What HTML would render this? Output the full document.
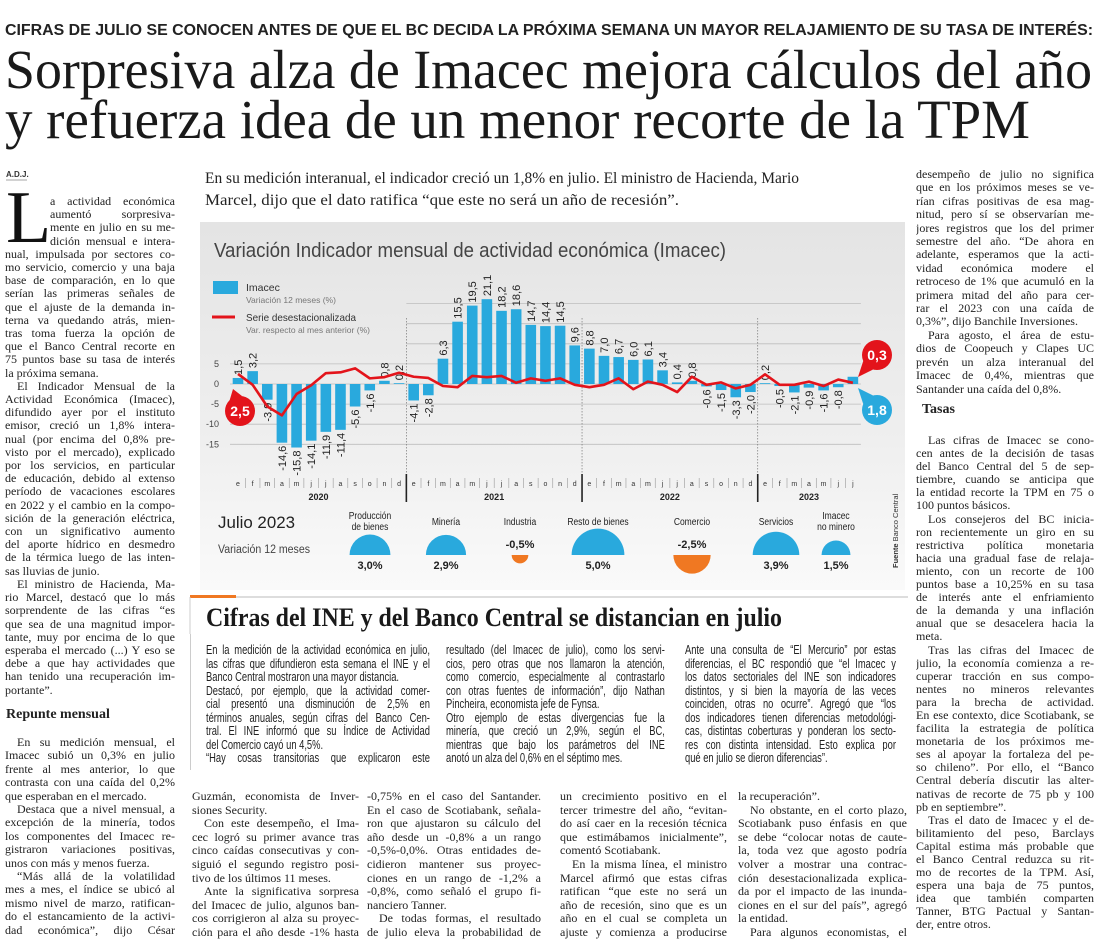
<!DOCTYPE html>
<html><head><meta charset="utf-8">
<style>
html,body{margin:0;padding:0;background:#fff;}
body{width:1100px;height:947px;position:relative;overflow:hidden;color:#1e1e1e;}
.abs{position:absolute;}
.col{position:absolute;font-family:"Liberation Serif",serif;font-size:12px;line-height:13.4px;color:#222;}
.col div{white-space:nowrap;text-align:justify;text-align-last:justify;overflow:hidden;}
.col div.e{text-align-last:left;}
.col div.i{text-indent:12px;}
.col div.d{padding-left:45px;}
.sc{position:absolute;font-family:"Liberation Sans",sans-serif;font-size:13px;line-height:13.5px;color:#222;transform:scaleX(0.72);transform-origin:0 0;}
.sc div{white-space:nowrap;text-align:justify;text-align-last:justify;overflow:hidden;}
.sc div.e{text-align-last:left;}
.hd{position:absolute;font-family:"Liberation Serif",serif;font-weight:bold;font-size:14px;color:#222;}
</style></head>
<body>
<svg class="abs" style="left:0;top:0" width="1100" height="222">
<text x="5" y="35" textLength="1088" lengthAdjust="spacingAndGlyphs" font-family="Liberation Sans, sans-serif" font-weight="bold" font-size="16" fill="#222">CIFRAS DE JULIO SE CONOCEN ANTES DE QUE EL BC DECIDA LA PRÓXIMA SEMANA UN MAYOR RELAJAMIENTO DE SU TASA DE INTERÉS:</text>
<text x="5" y="88" textLength="1087" lengthAdjust="spacingAndGlyphs" font-family="Liberation Serif, serif" font-size="55" fill="#1a1a1a">Sorpresiva alza de Imacec mejora cálculos del año</text>
<text x="5" y="138" textLength="1025" lengthAdjust="spacingAndGlyphs" font-family="Liberation Serif, serif" font-size="55" fill="#1a1a1a">y refuerza idea de un menor recorte de la TPM</text>
<text x="6" y="177" font-family="Liberation Sans, sans-serif" font-size="8" font-weight="bold" fill="#333">A.D.J.</text>
<line x1="6" y1="180" x2="27" y2="180" stroke="#888" stroke-width="0.8"/>
<text x="205" y="183" textLength="594" lengthAdjust="spacingAndGlyphs" font-family="Liberation Serif, serif" font-size="15.5" fill="#222">En su medición interanual, el indicador creció un 1,8% en julio. El ministro de Hacienda, Mario</text>
<text x="205" y="205" textLength="474" lengthAdjust="spacingAndGlyphs" font-family="Liberation Serif, serif" font-size="15.5" fill="#222">Marcel, dijo que el dato ratifica “que este no será un año de recesión”.</text>
</svg>

<div class="abs" style="left:6px;top:181px;font-family:'Liberation Serif',serif;font-size:74px;line-height:1;color:#111;">L</div>

<div class="col" style="left:5px;top:195px;width:170px;line-height:13.2px;">
<div class="d">a actividad económica</div>
<div class="d">aumentó sorpresiva-</div>
<div class="d">mente en julio en su me-</div>
<div class="d">dición mensual e intera-</div>
<div>nual, impulsada por sectores co-</div>
<div>mo servicio, comercio y una baja</div>
<div>base de comparación, en lo que</div>
<div>serían las primeras señales de</div>
<div>que el ajuste de la demanda in-</div>
<div>terna va quedando atrás, mien-</div>
<div>tras toma fuerza la opción de</div>
<div>que el Banco Central recorte en</div>
<div>75 puntos base su tasa de interés</div>
<div class="e">la próxima semana.</div>
<div class="i">El Indicador Mensual de la</div>
<div>Actividad Económica (Imacec),</div>
<div>difundido ayer por el instituto</div>
<div>emisor, creció un 1,8% intera-</div>
<div>nual (por encima del 0,8% pre-</div>
<div>visto por el mercado), explicado</div>
<div>por los servicios, en particular</div>
<div>de educación, debido al extenso</div>
<div>período de vacaciones escolares</div>
<div>en 2022 y el cambio en la compo-</div>
<div>sición de la generación eléctrica,</div>
<div>con un significativo aumento</div>
<div>del aporte hídrico en desmedro</div>
<div>de la térmica luego de las inten-</div>
<div class="e">sas lluvias de junio.</div>
<div class="i">El ministro de Hacienda, Ma-</div>
<div>rio Marcel, destacó que lo más</div>
<div>sorprendente de las cifras “es</div>
<div>que sea de una magnitud impor-</div>
<div>tante, muy por encima de lo que</div>
<div>esperaba el mercado (...) Y eso se</div>
<div>debe a que hay actividades que</div>
<div>han tenido una recuperación im-</div>
<div class="e">portante”.</div>
</div>
<div class="hd" style="left:6px;top:707px;">Repunte mensual</div>
<div class="col" style="left:5px;top:736px;width:170px;">
<div class="i">En su medición mensual, el</div>
<div>Imacec subió un 0,3% en julio</div>
<div>frente al mes anterior, lo que</div>
<div>contrasta con una caída del 0,2%</div>
<div class="e">que esperaban en el mercado.</div>
<div class="i">Destaca que a nivel mensual, a</div>
<div>excepción de la minería, todos</div>
<div>los componentes del Imacec re-</div>
<div>gistraron variaciones positivas,</div>
<div class="e">unos con más y menos fuerza.</div>
<div class="i">“Más allá de la volatilidad</div>
<div>mes a mes, el índice se ubicó al</div>
<div>mismo nivel de marzo, ratifican-</div>
<div>do el estancamiento de la activi-</div>
<div>dad económica”, dijo César</div>
</div>

<div class="col" style="left:916px;top:168px;width:178px;">
<div>desempeño de julio no significa</div>
<div>que en los próximos meses se ve-</div>
<div>rían cifras positivas de esa mag-</div>
<div>nitud, pero sí se observarían me-</div>
<div>jores registros que los del primer</div>
<div>semestre del año. “De ahora en</div>
<div>adelante, esperamos que la acti-</div>
<div>vidad económica modere el</div>
<div>retroceso de 1% que acumuló en la</div>
<div>primera mitad del año para cer-</div>
<div>rar el 2023 con una caída de</div>
<div class="e">0,3%”, dijo Banchile Inversiones.</div>
<div class="i">Para agosto, el área de estu-</div>
<div>dios de Coopeuch y Clapes UC</div>
<div>prevén un alza interanual del</div>
<div>Imacec de 0,4%, mientras que</div>
<div class="e">Santander una caída del 0,8%.</div>
</div>
<div class="hd" style="left:922px;top:402px;">Tasas</div>
<div class="col" style="left:916px;top:434px;width:178px;line-height:13.1px;">
<div class="i">Las cifras de Imacec se cono-</div>
<div>cen antes de la decisión de tasas</div>
<div>del Banco Central del 5 de sep-</div>
<div>tiembre, cuando se anticipa que</div>
<div>la entidad recorte la TPM en 75 o</div>
<div class="e">100 puntos básicos.</div>
<div class="i">Los consejeros del BC inicia-</div>
<div>ron recientemente un giro en su</div>
<div>restrictiva política monetaria</div>
<div>hacia una gradual fase de relaja-</div>
<div>miento, con un recorte de 100</div>
<div>puntos base a 10,25% en su tasa</div>
<div>de interés ante el enfriamiento</div>
<div>de la demanda y una inflación</div>
<div>anual que se desacelera hacia la</div>
<div class="e">meta.</div>
<div class="i">Tras las cifras del Imacec de</div>
<div>julio, la economía comienza a re-</div>
<div>cuperar tracción en sus compo-</div>
<div>nentes no mineros relevantes</div>
<div>para la brecha de actividad.</div>
<div>En ese contexto, dice Scotiabank, se</div>
<div>facilita la estrategia de política</div>
<div>monetaria de los próximos me-</div>
<div>ses al apoyar la fortaleza del pe-</div>
<div>so chileno”. Por ello, el “Banco</div>
<div>Central debería discutir las alter-</div>
<div>nativas de recorte de 75 pb y 100</div>
<div class="e">pb en septiembre”.</div>
<div class="i">Tras el dato de Imacec y el de-</div>
<div>bilitamiento del peso, Barclays</div>
<div>Capital estima más probable que</div>
<div>el Banco Central reduzca su rit-</div>
<div>mo de recortes de la TPM. Así,</div>
<div>espera una baja de 75 puntos,</div>
<div>idea que también comparten</div>
<div>Tanner, BTG Pactual y Santan-</div>
<div class="e">der, entre otros.</div>
</div>

<!-- sub story -->
<svg class="abs" style="left:185px;top:594px" width="725" height="40">
<line x1="5" y1="3" x2="723" y2="3" stroke="#bbb" stroke-width="1"/>
<rect x="5" y="1" width="46" height="3" fill="#f07822"/>
<line x1="5" y1="3" x2="5" y2="40" stroke="#ccc" stroke-width="1"/>
<text x="21" y="32" textLength="576" lengthAdjust="spacingAndGlyphs" font-family="Liberation Serif, serif" font-weight="bold" font-size="26" fill="#1a1a1a">Cifras del INE y del Banco Central se distancian en julio</text>
</svg>
<div class="abs" style="left:190px;top:634px;width:1px;height:136px;background:#ccc"></div>

<div class="sc" style="left:206px;top:643px;width:311px;">
<div>En la medición de la actividad económica en julio,</div>
<div>las cifras que difundieron esta semana el INE y el</div>
<div class="e">Banco Central mostraron una mayor distancia.</div>
<div>Destacó, por ejemplo, que la actividad comer-</div>
<div>cial presentó una disminución de 2,5% en</div>
<div>términos anuales, según cifras del Banco Cen-</div>
<div>tral. El INE informó que su Índice de Actividad</div>
<div class="e">del Comercio cayó un 4,5%.</div>
<div>“Hay cosas transitorias que explicaron este</div>
</div>
<div class="sc" style="left:446px;top:643px;width:304px;">
<div>resultado (del Imacec de julio), como los servi-</div>
<div>cios, pero otras que nos llamaron la atención,</div>
<div>como comercio, especialmente al contrastarlo</div>
<div>con otras fuentes de información”, dijo Nathan</div>
<div class="e">Pincheira, economista jefe de Fynsa.</div>
<div>Otro ejemplo de estas divergencias fue la</div>
<div>minería, que creció un 2,9%, según el BC,</div>
<div>mientras que bajo los parámetros del INE</div>
<div class="e">anotó un alza del 0,6% en el séptimo mes.</div>
</div>
<div class="sc" style="left:685px;top:643px;width:293px;">
<div>Ante una consulta de “El Mercurio” por estas</div>
<div>diferencias, el BC respondió que “el Imacec y</div>
<div>los datos sectoriales del INE son indicadores</div>
<div>distintos, y si bien la mayoría de las veces</div>
<div>coinciden, otras no ocurre”. Agregó que “los</div>
<div>dos indicadores tienen diferencias metodológi-</div>
<div>cas, distintas coberturas y ponderan los secto-</div>
<div>res con distinta intensidad. Esto explica por</div>
<div class="e">qué en julio se dieron diferencias”.</div>
</div>

<div class="col" style="left:192px;top:790px;width:167px;line-height:13.6px;">
<div>Guzmán, economista de Inver-</div>
<div class="e">siones Security.</div>
<div class="i">Con este desempeño, el Ima-</div>
<div>cec logró su primer avance tras</div>
<div>cinco caídas consecutivas y con-</div>
<div>siguió el segundo registro posi-</div>
<div class="e">tivo de los últimos 11 meses.</div>
<div class="i">Ante la significativa sorpresa</div>
<div>del Imacec de julio, algunos ban-</div>
<div>cos corrigieron al alza su proyec-</div>
<div>ción para el año desde -1% hasta</div>
</div>
<div class="col" style="left:367px;top:790px;width:174px;line-height:13.6px;">
<div>-0,75% en el caso del Santander.</div>
<div>En el caso de Scotiabank, señala-</div>
<div>ron que ajustaron su cálculo del</div>
<div>año desde un -0,8% a un rango</div>
<div>-0,5%-0,0%. Otras entidades de-</div>
<div>cidieron mantener sus proyec-</div>
<div>ciones en un rango de -1,2% a</div>
<div>-0,8%, como señaló el grupo fi-</div>
<div class="e">nanciero Tanner.</div>
<div class="i">De todas formas, el resultado</div>
<div>de julio eleva la probabilidad de</div>
</div>
<div class="col" style="left:560px;top:790px;width:167px;line-height:13.6px;">
<div>un crecimiento positivo en el</div>
<div>tercer trimestre del año, “evitan-</div>
<div>do así caer en la recesión técnica</div>
<div>que estimábamos inicialmente”,</div>
<div class="e">comentó Scotiabank.</div>
<div class="i">En la misma línea, el ministro</div>
<div>Marcel afirmó que estas cifras</div>
<div>ratifican “que este no será un</div>
<div>año de recesión, sino que es un</div>
<div>año en el cual se completa un</div>
<div>ajuste y comienza a producirse</div>
</div>
<div class="col" style="left:738px;top:790px;width:169px;line-height:13.6px;">
<div class="e">la recuperación”.</div>
<div class="i">No obstante, en el corto plazo,</div>
<div>Scotiabank puso énfasis en que</div>
<div>se debe “colocar notas de caute-</div>
<div>la, toda vez que agosto podría</div>
<div>volver a mostrar una contrac-</div>
<div>ción desestacionalizada explica-</div>
<div>da por el impacto de las inunda-</div>
<div>ciones en el sur del país”, agregó</div>
<div class="e">la entidad.</div>
<div class="i">Para algunos economistas, el</div>
</div>

<svg id="chart" class="abs" style="left:200px;top:222px" width="705" height="368" viewBox="200 222 705 368">
<defs><linearGradient id="bg" x1="0" y1="0" x2="0" y2="1"><stop offset="0" stop-color="#e4e4e4"/><stop offset="0.6" stop-color="#efefef"/><stop offset="1" stop-color="#fafafa"/></linearGradient></defs>
<rect x="200" y="222" width="705" height="368" fill="url(#bg)"/>
<text x="214" y="257" textLength="512" lengthAdjust="spacingAndGlyphs" font-family="Liberation Sans, sans-serif" font-size="20" fill="#444">Variación Indicador mensual de actividad económica (Imacec)</text>
<rect x="213" y="281" width="25" height="13" fill="#29a9dd"/>
<text x="246" y="291" font-family="Liberation Sans, sans-serif" font-size="10.5" fill="#333">Imacec</text>
<text x="246" y="303" font-family="Liberation Sans, sans-serif" font-size="8.5" fill="#777" textLength="90" lengthAdjust="spacingAndGlyphs">Variación 12 meses (%)</text>
<line x1="212" y1="317" x2="235" y2="317" stroke="#e3141b" stroke-width="3"/>
<text x="246" y="321" font-family="Liberation Sans, sans-serif" font-size="10.5" fill="#333" textLength="110" lengthAdjust="spacingAndGlyphs">Serie desestacionalizada</text>
<text x="246" y="333" font-family="Liberation Sans, sans-serif" font-size="8.5" fill="#777" textLength="124" lengthAdjust="spacingAndGlyphs">Var. respecto al mes anterior (%)</text>
<g id="plot"></g>
<text x="218" y="528" font-family="Liberation Sans, sans-serif" font-size="17" fill="#222" textLength="77" lengthAdjust="spacingAndGlyphs">Julio 2023</text>
<text x="218" y="553" font-family="Liberation Sans, sans-serif" font-size="11.5" fill="#444" textLength="92" lengthAdjust="spacingAndGlyphs">Variación 12 meses</text>
<g id="sectors"></g>
<text transform="translate(898,568) rotate(-90)" font-family="Liberation Sans, sans-serif" font-size="7.5" fill="#333"><tspan font-weight="bold">Fuente</tspan> Banco Central</text>
</svg>

<script>
const monthLetters = ['e','f','m','a','m','j','j','a','s','o','n','d'];
const yearLabels = ['2020','2021','2022','2023'];
const imacec = [1.5,3.2,-3.9,-14.6,-15.8,-14.1,-11.9,-11.4,-5.6,-1.6,0.8,0.2,
  -4.1,-2.8,6.3,15.5,19.5,21.1,18.2,18.6,14.7,14.4,14.5,9.6,
  8.8,7.0,6.7,6.0,6.1,3.4,0.4,0.8,-0.6,-1.5,-3.3,-2.0,
  0.2,-0.5,-2.1,-0.9,-1.6,-0.8,1.8];
const desest = [2.5,-0.2,-5.6,-7.8,-2.5,-0.3,2.7,2.9,3.9,1.4,1.7,2.8,
  1.8,1.5,-0.5,-0.8,2.0,1.7,2.0,0.3,1.4,0.8,1.4,-0.2,
  -0.8,-0.2,1.4,-1.3,0.6,-0.2,-2.0,1.8,-0.2,0.4,-1.1,-0.2,
  2.4,-0.2,-0.2,0.6,-0.5,1.1,0.3];
const yTicks = [-15,-10,-5,0,5,10,15,20];
const sectorNames = [['Producción','de bienes'],['Minería'],['Industria'],['Resto de bienes'],['Comercio'],['Servicios'],['Imacec','no minero']];
const sectorValues = [3.0,2.9,-0.5,5.0,-2.5,3.9,1.5];
const sectorLabels = ['3,0%','2,9%','-0,5%','5,0%','-2,5%','3,9%','1,5%'];

const NS='http://www.w3.org/2000/svg';
const X0=238, DX=14.64, Y0=384, KY=4.02;
function xs(i){return X0+i*DX;}
function ys(v){return Y0-v*KY;}
function mk(tag,attrs,parent){const e=document.createElementNS(NS,tag);for(const k in attrs)e.setAttribute(k,attrs[k]);parent.appendChild(e);return e;}
const fmt=v=>String(v.toFixed(1)).replace('.',',');
const plot=document.getElementById('plot');
const N=imacec.length;
const xEnd=xs(N-1)+8;
const xSep=[xs(11.5),xs(23.5),xs(35.5)];
yTicks.forEach(t=>{
  const startX = t>5 ? xSep[0] : 230;
  const g=mk('line',{x1:startX,y1:ys(t),x2:xEnd,y2:ys(t),stroke:'#bdbdbd','stroke-width':0.8},plot);
  
  
  if(t<=5){
    const tl=mk('text',{x:219,y:ys(t)+3,'text-anchor':'end','font-family':'Liberation Sans, sans-serif','font-size':9,fill:'#444'},plot);
    tl.textContent=t;
    
    
  }
});
xSep.forEach(x=>{
  const l=mk('line',{x1:x,y1:318,x2:x,y2:474,stroke:'#777','stroke-width':0.7,'stroke-dasharray':'1.5,1.5'},plot);
  
  
  const s=mk('line',{x1:x,y1:474,x2:x,y2:502,stroke:'#222','stroke-width':1.6},plot);
  
  
});
imacec.forEach((v,i)=>{
  const y1=Math.min(ys(v),ys(0)), h=Math.abs(ys(v)-ys(0));
  const b=mk('rect',{x:xs(i)-5.3,y:y1,width:10.6,height:Math.max(h,0.8),fill:'#29a9dd'},plot);
  
  
  if(i===N-1) return;
  const tx=xs(i)+4;
  let t;
  if(v>=0){
    t=mk('text',{transform:`translate(${tx},${ys(v)-3}) rotate(-90)`,'text-anchor':'start','font-family':'Liberation Sans, sans-serif','font-size':11,fill:'#222'},plot);
  } else {
    t=mk('text',{transform:`translate(${tx},${ys(v)+3}) rotate(-90)`,'text-anchor':'end','font-family':'Liberation Sans, sans-serif','font-size':11,fill:'#222'},plot);
  }
  t.textContent=fmt(v);
  
  
});
const pts=desest.map((v,i)=>xs(i)+','+ys(v)).join(' ');
const pl=mk('polyline',{points:pts,fill:'none',stroke:'#e3141b','stroke-width':2.6,'stroke-linejoin':'round'},plot);


for(let i=0;i<N;i++){
  const m=mk('text',{x:xs(i),y:486,'text-anchor':'middle','font-family':'Liberation Sans, sans-serif','font-size':7,fill:'#333'},plot);
  m.textContent=monthLetters[i%12];
  
  
  if(i<N-1 && i%12!==11){
    const s=mk('line',{x1:xs(i)+DX/2,y1:478,x2:xs(i)+DX/2,y2:488,stroke:'#999','stroke-width':0.6},plot);
    
    
  }
}
yearLabels.forEach((yl,k)=>{
  const a=k*12, b=Math.min(k*12+11,N-1);
  const t=mk('text',{x:(xs(a)+xs(b))/2,y:500,'text-anchor':'middle','font-family':'Liberation Sans, sans-serif','font-size':9,'font-weight':'bold',fill:'#222'},plot);
  t.textContent=yl;
  
  
});
function callout(cx,cy,px,py,col,label,name){
  const g=mk('g',{},plot);
  
  
  const ang=Math.atan2(py-cy,px-cx), r=15;
  const a1=ang+0.45,a2=ang-0.45;
  mk('polygon',{points:`${cx+r*Math.cos(a1)},${cy+r*Math.sin(a1)} ${px},${py} ${cx+r*Math.cos(a2)},${cy+r*Math.sin(a2)}`,fill:col},g);
  mk('circle',{cx:cx,cy:cy,r:r,fill:col},g);
  const t=mk('text',{x:cx,y:cy+5,'text-anchor':'middle','font-family':'Liberation Sans, sans-serif','font-size':14,'font-weight':'bold',fill:'#fff'},g);
  t.textContent=label;
}
callout(240,411,233,389,'#e3141b',fmt(desest[0]),'callout-first-desest');
callout(877,355,858,377,'#e3141b',fmt(desest[N-1]),'callout-last-desest');
callout(877,410,858,388,'#29a9dd',fmt(imacec[N-1]),'callout-last-imacec');
const sectorX=[370,446,520,598,692,776,836];
const sg=document.getElementById('sectors');
const BASE=555, KR=11.8;
sectorValues.forEach((v,i)=>{
  const cx=sectorX[i], r=KR*Math.sqrt(Math.abs(v));
  const pos=v>=0;
  const d=pos?`M${cx-r},${BASE} A${r},${r} 0 0 1 ${cx+r},${BASE} Z`:`M${cx-r},${BASE} A${r},${r} 0 0 0 ${cx+r},${BASE} Z`;
  const p=mk('path',{d:d,fill:pos?'#29a9dd':'#f07822'},sg);
  
  
  const nm=sectorNames[i];
  nm.forEach((ln,j)=>{
    const t=mk('text',{x:cx,y:(nm.length===1?525:519+j*11),'text-anchor':'middle','font-family':'Liberation Sans, sans-serif','font-size':10,fill:'#222',transform:`translate(${cx*0.15},0) scale(0.85,1)`},sg);
    t.textContent=ln;
    
    
  });
  const vt=mk('text',{x:cx,y:pos?BASE+14:BASE-7,'text-anchor':'middle','font-family':'Liberation Sans, sans-serif','font-size':11,'font-weight':'bold',fill:'#222'},sg);
  vt.textContent=sectorLabels[i];
  
  
});
</script>
</body></html>
